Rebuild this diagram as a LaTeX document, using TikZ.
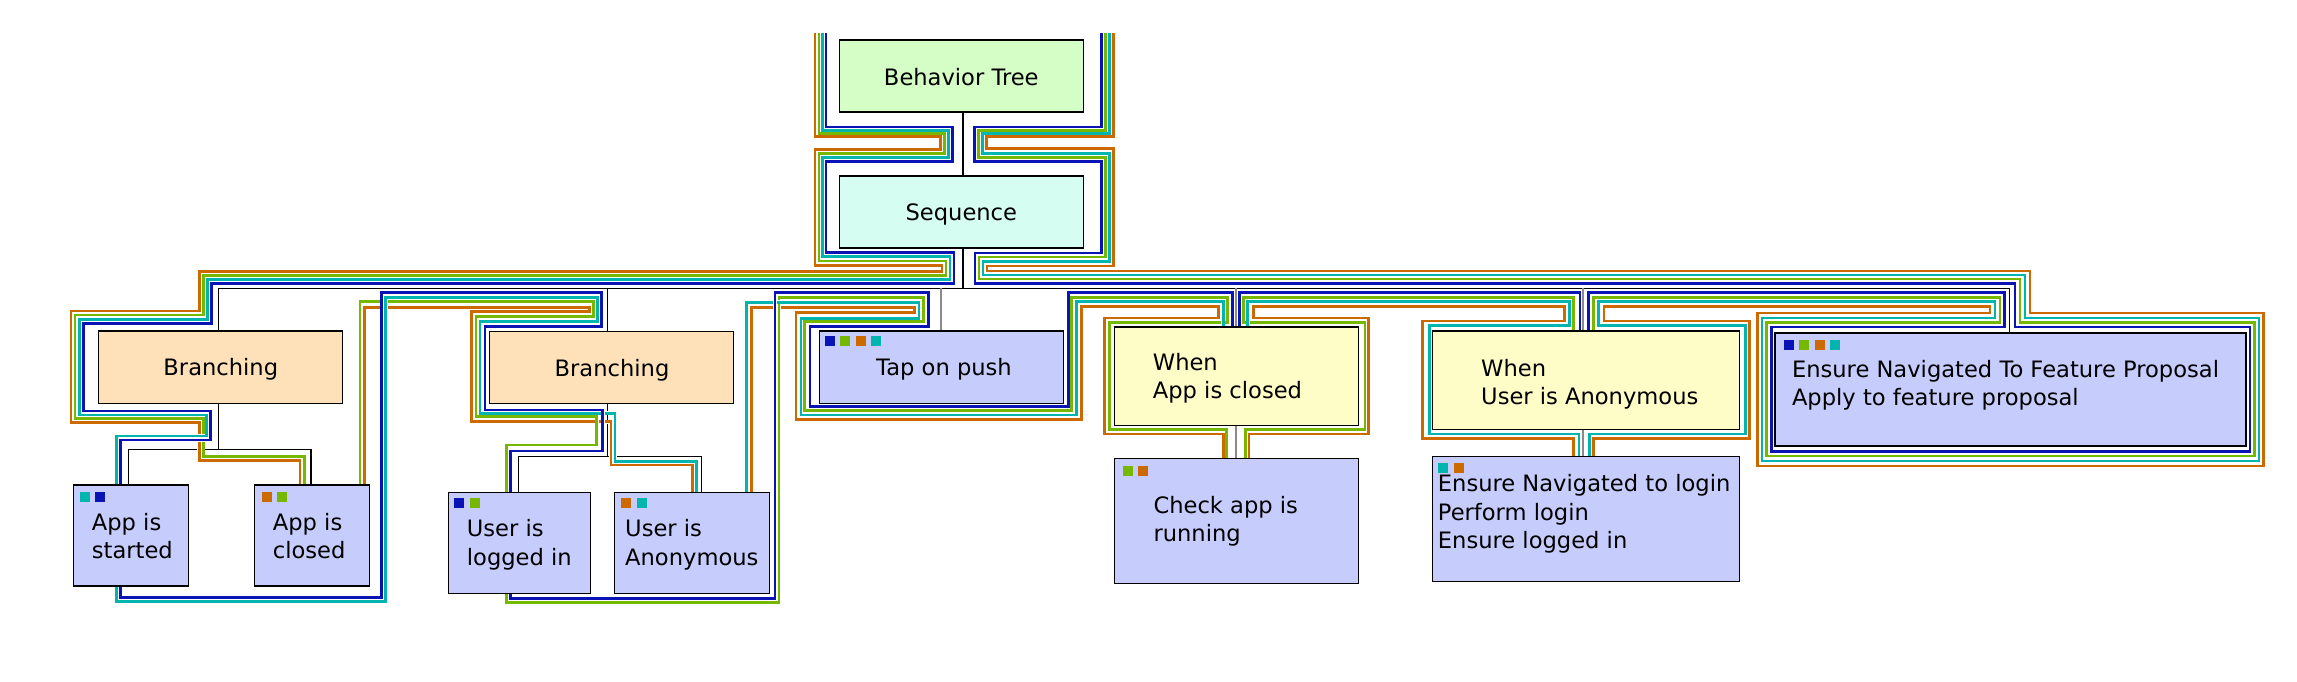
\documentclass[tikz,border=0pt]{standalone}
\usepackage{fontspec}
\setmainfont{DejaVu Sans}
\definecolor{tblue}{HTML}{0A14B4}
\definecolor{tgreen}{HTML}{76B800}
\definecolor{torange}{HTML}{CC6A00}
\definecolor{tcyan}{HTML}{00B5AD}
\definecolor{fbt}{HTML}{D5FDC6}
\definecolor{fseq}{HTML}{D5FDF1}
\definecolor{fbr}{HTML}{FEE1B9}
\definecolor{fleaf}{HTML}{C6CDFD}
\definecolor{fwhen}{HTML}{FEFDC8}
\definecolor{gedgec}{HTML}{8A8A8A}
\tikzset{
  box/.style={draw=black, line width=1.3, inner sep=0, outer sep=0, anchor=north west},
  edge/.style={draw=black, line width=1.2},
  gedge/.style={draw=gedgec, line width=1.8},
  trace/.style={line width=2.8, line join=miter, preaction={draw=white, line width=3.8}},
  txt/.style={inner sep=0, font=\fontsize{22.6}{28.6}\selectfont},
  ltxt/.style={txt, anchor=base west, align=left},
  ctxt/.style={txt, anchor=base},
  mk/.style={minimum size=10, inner sep=0, anchor=north west}
}
\begin{document}
\begin{tikzpicture}[x=1pt,y=-1pt]
\fill[white] (0,0) rectangle (2297,681);
\useasboundingbox (0,0) rectangle (2297,681);
% coordinates for edges
\coordinate (bus) at (0,288.3);
\coordinate (bar1) at (0,449.3);
\coordinate (bar2) at (0,456.7);
\coordinate (xj) at (963,0);
\coordinate (xb1) at (218.3,0);
\coordinate (xast) at (128.3,0);
\coordinate (xacl) at (311,0);
\coordinate (xb2) at (607.3,0);
\coordinate (xuli) at (518.3,0);
\coordinate (xuan) at (701.7,0);
\coordinate (xtap) at (941,0);
\coordinate (xwac) at (1235.7,0);
\coordinate (xwua) at (1583.3,0);
\coordinate (xfp) at (2009.3,0);
% node geometry (filled later)
\path
 (839.3,40) node[box, minimum width=244, minimum height=72, draw=none] (bt) {}
 (839.3,176) node[box, minimum width=244, minimum height=72, draw=none] (seq) {}
 (98.3,331) node[box, minimum width=244, minimum height=72.3, draw=none] (br1) {}
 (489.3,331.3) node[box, minimum width=244, minimum height=72, draw=none] (br2) {}
 (73.3,485) node[box, minimum width=115, minimum height=101, draw=none] (ast) {}
 (254.3,485) node[box, minimum width=115, minimum height=101, draw=none] (acl) {}
 (448.3,492.3) node[box, minimum width=142, minimum height=101, draw=none] (uli) {}
 (614.3,492.3) node[box, minimum width=155, minimum height=101, draw=none] (uan) {}
 (819.3,331) node[box, minimum width=244, minimum height=72.3, draw=none] (tap) {}
 (1114.3,327) node[box, minimum width=244.4, minimum height=98.7, draw=none] (wac) {}
 (1114.3,458.3) node[box, minimum width=244.4, minimum height=125, draw=none] (chk) {}
 (1432.3,331) node[box, minimum width=307.4, minimum height=98.7, draw=none] (wua) {}
 (1432.3,456.3) node[box, minimum width=307.4, minimum height=125, draw=none] (enl) {}
 (1775,333) node[box, minimum width=471, minimum height=113, draw=none] (fp) {};
% tree edges
\draw[edge] (bt.south -| xj) -- (seq.north -| xj);
\draw[edge] (seq.south -| xj) -- (bus -| xj);
\draw[edge] (br1.north -| xb1) |- (bus -| xfp) -- (fp.north -| xfp);
\draw[edge] (bus -| xb2) -- (br2.north -| xb2);
\draw[edge] (br1.south -| xb1) -- (bar1 -| xb1);
\draw[edge] (ast.north -| xast) |- (bar1 -| xacl) -- (acl.north -| xacl);
\draw[edge] (br2.south -| xb2) -- (bar2 -| xb2);
\draw[edge] (uli.north -| xuli) |- (bar2 -| xuan) -- (uan.north -| xuan);
\draw[gedge] (bus -| xtap) -- (tap.north -| xtap);
\draw[gedge] (bus -| xwac) -- (wac.north -| xwac);
\draw[gedge] (wac.south -| xwac) -- (chk.north -| xwac);
\draw[gedge] (bus -| xwua) -- (wua.north -| xwua);
\draw[gedge] (wua.south -| xwua) -- (enl.north -| xwua);
% traces
\draw[trace, torange] (815,33) -- (815,136.7) -- (940.7,136.7) -- (940.7,149.3) -- (815,149.3) -- (815,265.5) -- (942,265.5) -- (942,271.3) -- (199.3,271.3) -- (199.3,311) -- (71,311) -- (71,422.7) -- (199.3,422.7) -- (199.3,460.7) -- (300,460.7) -- (300,510) -- (364.3,510) -- (364.3,307.3) -- (589.3,307.3) -- (589.3,311.7) -- (471.7,311.7) -- (471.7,421.7) -- (611,421.7) -- (611,465) -- (692.7,465) -- (692.7,510) -- (751.7,510) -- (751.7,307.3) -- (914.3,307.3) -- (914.3,312.3) -- (796,312.3) -- (796,419.3) -- (1081.7,419.3) -- (1081.7,306.7) -- (1218.3,306.7) -- (1218.3,318) -- (1104.3,318) -- (1104.3,434) -- (1223.3,434) -- (1223.3,470) -- (1249,470) -- (1249,434) -- (1368.3,434) -- (1368.3,318) -- (1253.3,318) -- (1253.3,306.7) -- (1564.3,306.7) -- (1564.3,321) -- (1422.7,321) -- (1422.7,438.3) -- (1573.3,438.3) -- (1573.3,470) -- (1593.3,470) -- (1593.3,438.3) -- (1749.3,438.3) -- (1749.3,321) -- (1604,321) -- (1604,306.7) -- (1990,306.7) -- (1990,313) -- (1757.7,313) -- (1757.7,466) -- (2263.5,466) -- (2263.5,313) -- (2030,313) -- (2030,271) -- (987,271) -- (987,266) -- (1113.7,266) -- (1113.7,148.3) -- (986.7,148.3) -- (986.7,136.7) -- (1113.7,136.7) -- (1113.7,33);
\draw[trace, tgreen] (819,33) -- (819,133.5) -- (944.7,133.5) -- (944.7,153.5) -- (819,153.5) -- (819,261) -- (946,261) -- (946,275.3) -- (203.3,275.3) -- (203.3,315) -- (75,315) -- (75,418.3) -- (203.3,418.3) -- (203.3,456.7) -- (304.3,456.7) -- (304.3,510) -- (360,510) -- (360,301.7) -- (593.3,301.7) -- (593.3,316.7) -- (476,316.7) -- (476,416.7) -- (596.7,416.7) -- (596.7,445) -- (506.7,445) -- (506.7,602.3) -- (779,602.3) -- (779,297.7) -- (923.3,297.7) -- (923.3,321.7) -- (804.3,321.7) -- (804.3,410.7) -- (1071.7,410.7) -- (1071.7,297.7) -- (1227.7,297.7) -- (1227.7,322.7) -- (1109.3,322.7) -- (1109.3,429.3) -- (1226.7,429.3) -- (1226.7,470) -- (1245.7,470) -- (1245.7,429.3) -- (1365,429.3) -- (1365,322.7) -- (1243.3,322.7) -- (1243.3,297.7) -- (1573.3,297.7) -- (1573.3,345) -- (1593.3,345) -- (1593.3,297.7) -- (2000,297.7) -- (2000,322.7) -- (1766.7,322.7) -- (1766.7,456) -- (2254.5,456) -- (2254.5,322.7) -- (2020,322.7) -- (2020,279) -- (979,279) -- (979,257) -- (1105.7,257) -- (1105.7,157.6) -- (978.5,157.6) -- (978.5,130.2) -- (1105.7,130.2) -- (1105.7,33);
\draw[trace, tcyan] (822.5,33) -- (822.5,130.2) -- (948.7,130.2) -- (948.7,157.6) -- (822.5,157.6) -- (822.5,256.7) -- (950,256.7) -- (950,279.3) -- (207.3,279.3) -- (207.3,319.3) -- (79.3,319.3) -- (79.3,415) -- (206.7,415) -- (206.7,436) -- (116.7,436) -- (116.7,601.7) -- (385.7,601.7) -- (385.7,297.7) -- (597.7,297.7) -- (597.7,321.7) -- (480,321.7) -- (480,413.3) -- (615,413.3) -- (615,461.7) -- (696.7,461.7) -- (696.7,510) -- (746.7,510) -- (746.7,302.3) -- (919,302.3) -- (919,318.3) -- (801,318.3) -- (801,415) -- (1076.7,415) -- (1076.7,301.7) -- (1223.3,301.7) -- (1223.3,345) -- (1247.7,345) -- (1247.7,301.7) -- (1569.3,301.7) -- (1569.3,325.7) -- (1429.3,325.7) -- (1429.3,434) -- (1579,434) -- (1579,470) -- (1589.3,470) -- (1589.3,434) -- (1745.7,434) -- (1745.7,325.7) -- (1598.3,325.7) -- (1598.3,301.7) -- (1995,301.7) -- (1995,318) -- (1762,318) -- (1762,461) -- (2259,461) -- (2259,318) -- (2025,318) -- (2025,275) -- (983,275) -- (983,261.5) -- (1109.7,261.5) -- (1109.7,153.5) -- (982.5,153.5) -- (982.5,133.5) -- (1109.7,133.5) -- (1109.7,33);
\draw[trace, tblue] (826,33) -- (826,127) -- (952.7,127) -- (952.7,161.7) -- (826,161.7) -- (826,252.7) -- (954,252.7) -- (954,283.3) -- (211.7,283.3) -- (211.7,323.3) -- (83.3,323.3) -- (83.3,411) -- (210.7,411) -- (210.7,440) -- (120.7,440) -- (120.7,597.3) -- (381.7,597.3) -- (381.7,292.7) -- (601.7,292.7) -- (601.7,326.7) -- (485,326.7) -- (485,410) -- (602.7,410) -- (602.7,451) -- (510.7,451) -- (510.7,598.3) -- (775,598.3) -- (775,292.7) -- (928.3,292.7) -- (928.3,326.7) -- (810,326.7) -- (810,406.7) -- (1068.3,406.7) -- (1068.3,292.7) -- (1232.7,292.7) -- (1232.7,345) -- (1239.3,345) -- (1239.3,292.7) -- (1580,292.7) -- (1580,345) -- (1588.3,345) -- (1588.3,292.7) -- (2004.3,292.7) -- (2004.3,327) -- (1771.7,327) -- (1771.7,451.5) -- (2250,451.5) -- (2250,327) -- (2015,327) -- (2015,283.3) -- (975,283.3) -- (975,253) -- (1101.7,253) -- (1101.7,161.7) -- (974.3,161.7) -- (974.3,127) -- (1101.7,127) -- (1101.7,33);
% nodes drawn on top
\node[box, fill=fbt, minimum width=244, minimum height=72] at (839.3,40) (btb) {};
\node[box, fill=fseq, minimum width=244, minimum height=72] at (839.3,176) (seqb) {};
\node[box, fill=fbr, minimum width=244, minimum height=72.3] at (98.3,331) (br1b) {};
\node[box, fill=fbr, minimum width=244, minimum height=72] at (489.3,331.3) (br2b) {};
\node[box, fill=fleaf, minimum width=115, minimum height=101] at (73.3,485) (astb) {};
\node[box, fill=fleaf, minimum width=115, minimum height=101] at (254.3,485) (aclb) {};
\node[box, fill=fleaf, minimum width=142, minimum height=101] at (448.3,492.3) (ulib) {};
\node[box, fill=fleaf, minimum width=155, minimum height=101] at (614.3,492.3) (uanb) {};
\node[box, fill=fleaf, minimum width=244, minimum height=72.3] at (819.3,331) (tapb) {};
\node[box, fill=fwhen, minimum width=244.4, minimum height=98.7] at (1114.3,327) (wacb) {};
\node[box, fill=fleaf, minimum width=244.4, minimum height=125] at (1114.3,458.3) (chkb) {};
\node[box, fill=fwhen, minimum width=307.4, minimum height=98.7] at (1432.3,331) (wuab) {};
\node[box, fill=fleaf, minimum width=307.4, minimum height=125] at (1432.3,456.3) (enlb) {};
\node[box, fill=fleaf, minimum width=471, minimum height=113] at (1775,333) (fpb) {};
% texts (base anchor = baseline of the last line)
\node[ctxt] (t-bt) at (961.3,85) {Behavior Tree};
\node[ctxt] (t-seq) at (961.3,220.7) {Sequence};
\node[ctxt] (t-br1) at (220.8,375) {Branching};
\node[ctxt] (t-br2) at (612,376) {Branching};
\node[ctxt] (t-tap) at (944,375) {Tap on push};
\node[ltxt] (t-ast) at (91.7,558.6) {App is\\started};
\node[ltxt] (t-acl) at (272.7,558.6) {App is\\closed};
\node[ltxt] (t-uli) at (466.7,565.3) {User is\\logged in};
\node[ltxt] (t-uan) at (625,565.3) {User is\\Anonymous};
\node[ltxt] (t-wac) at (1152.7,398.6) {When\\App is closed};
\node[ltxt] (t-chk) at (1153.3,541.9) {Check app is\\running};
\node[ltxt] (t-wua) at (1481,404.6) {When\\User is Anonymous};
\node[ltxt] (t-enl) at (1437.7,548.9) {Ensure Navigated to login\\Perform login\\Ensure logged in};
\node[ltxt] (t-fp) at (1791.8,405.6) {Ensure Navigated To Feature Proposal\\Apply to feature proposal};
% markers
\node[mk, fill=tcyan] (m1) at (80,491.7) {};
\node[mk, fill=tblue] (m2) at (94.3,491.7) {};
\node[mk, fill=torange] (m3) at (262,491.7) {};
\node[mk, fill=tgreen] (m4) at (277,491.7) {};
\node[mk, fill=tblue] (m5) at (454,497.3) {};
\node[mk, fill=tgreen] (m6) at (470,497.3) {};
\node[mk, fill=torange] (m7) at (621,497.3) {};
\node[mk, fill=tcyan] (m8) at (636.7,497.3) {};
\node[mk, fill=tblue] (m9) at (825,335.3) {};
\node[mk, fill=tgreen] (m10) at (840,335.3) {};
\node[mk, fill=torange] (m11) at (856,335.3) {};
\node[mk, fill=tcyan] (m12) at (871,335.3) {};
\node[mk, fill=tgreen] (m13) at (1122.3,466) {};
\node[mk, fill=torange] (m14) at (1138,466) {};
\node[mk, fill=tcyan] (m15) at (1437.3,462.3) {};
\node[mk, fill=torange] (m16) at (1453.3,462.3) {};
\node[mk, fill=tblue] (m17) at (1784,340) {};
\node[mk, fill=tgreen] (m18) at (1799,340) {};
\node[mk, fill=torange] (m19) at (1814.5,340) {};
\node[mk, fill=tcyan] (m20) at (1830,340) {};
\end{tikzpicture}
\end{document}
